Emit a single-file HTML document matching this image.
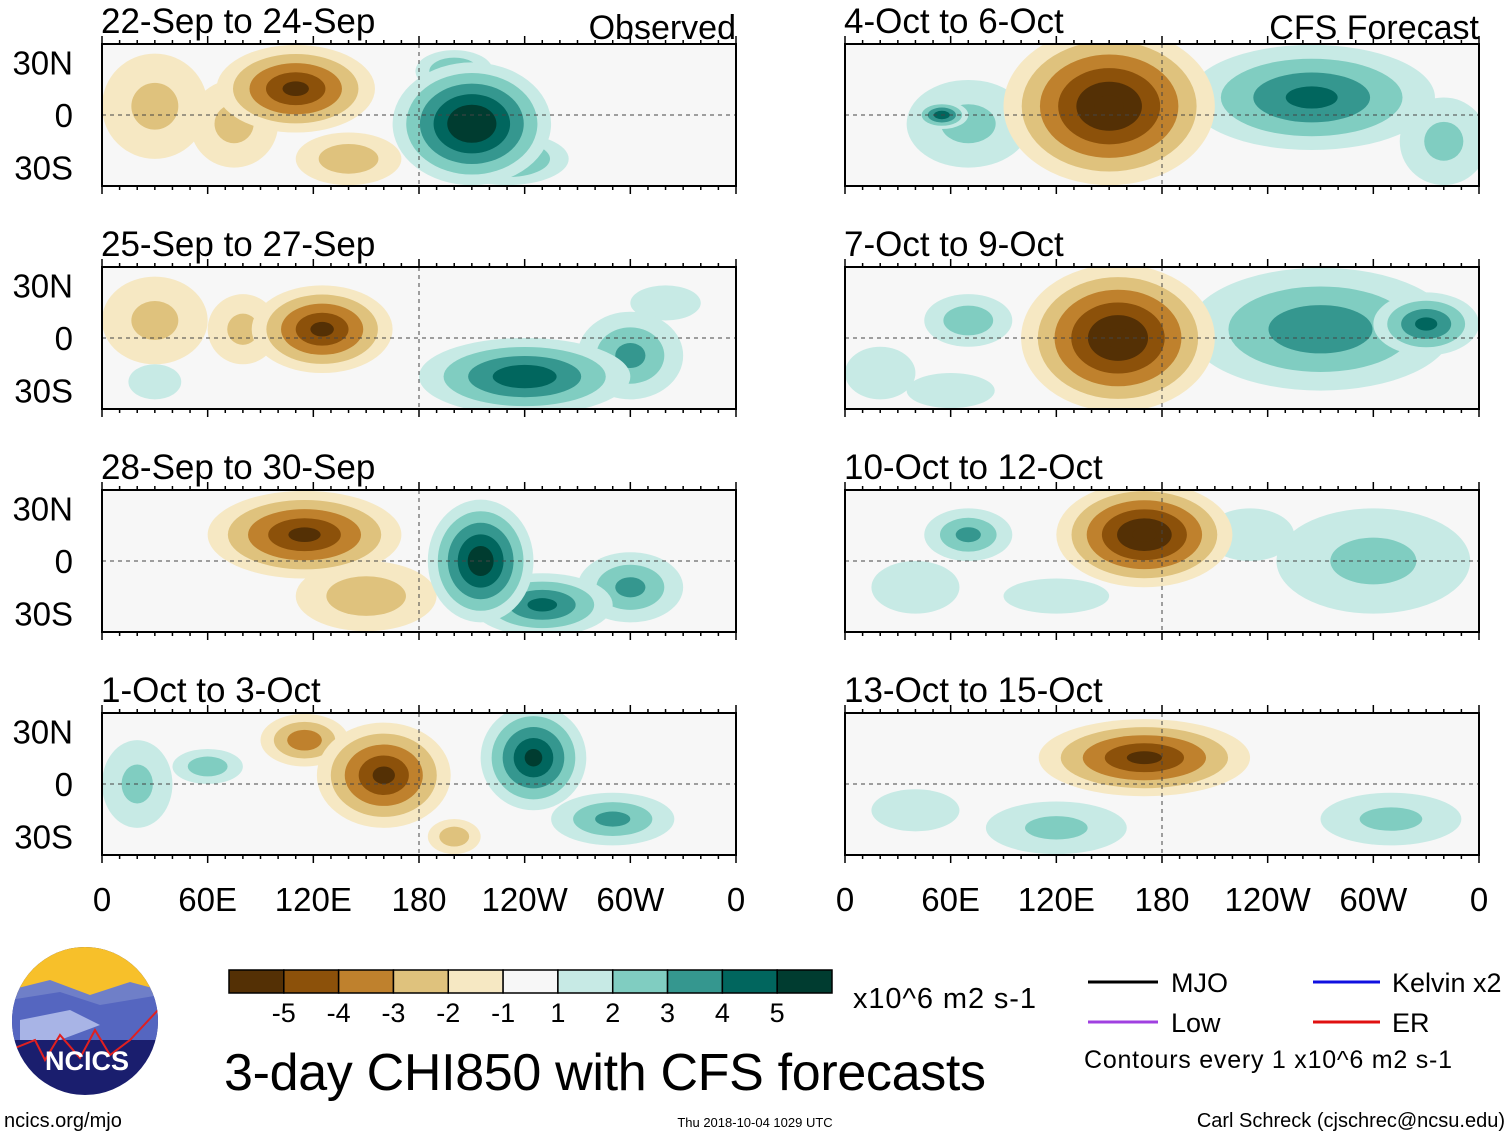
<!DOCTYPE html>
<html><head><meta charset="utf-8">
<style>
body{margin:0;background:#fff;width:1510px;height:1137px;overflow:hidden;font-family:"Liberation Sans",sans-serif;}
svg{display:block}
text{font-family:"Liberation Sans",sans-serif;}
</style></head>
<body>
<svg id="fig" width="1510" height="1137">
<g id="panels"></g>
<g id="cbar"></g>
<g>
<clipPath id="lc"><ellipse cx="85" cy="1021" rx="73" ry="74"/></clipPath>
<g clip-path="url(#lc)">
<rect x="10" y="945" width="150" height="160" fill="#1a1e6e"/>
<rect x="10" y="945" width="150" height="50" fill="#f7c02a"/>
<polygon points="10,990 50,980 90,995 130,982 160,990 160,1010 10,1010" fill="#6f7fc8"/>
<polygon points="10,1000 60,992 100,1005 160,995 160,1040 10,1040" fill="#5566c0"/>
<polygon points="20,1020 70,1010 100,1025 60,1040 20,1040" fill="#a8b4e6"/>
<polyline points="10,1050 35,1040 45,1060 60,1035 80,1058 95,1030 110,1055 130,1040 158,1010" fill="none" stroke="#e02020" stroke-width="2"/>
</g>
<text x="87" y="1070" text-anchor="middle" font-size="27" font-weight="bold" fill="#fff">NCICS</text>
</g>
<text x="224" y="1090" font-size="52" textLength="762">3-day CHI850 with CFS forecasts</text>
<text x="853" y="1008" font-size="29" textLength="183">x10^6 m2 s-1</text>
<g>
<line x1="1088" y1="982" x2="1158" y2="982" stroke="#000" stroke-width="3"/>
<text x="1171" y="992" font-size="27">MJO</text>
<line x1="1313" y1="982" x2="1380" y2="982" stroke="#1010e0" stroke-width="3"/>
<text x="1392" y="992" font-size="27">Kelvin x2</text>
<line x1="1088" y1="1022" x2="1158" y2="1022" stroke="#a040e0" stroke-width="3"/>
<text x="1171" y="1032" font-size="27">Low</text>
<line x1="1313" y1="1022" x2="1380" y2="1022" stroke="#e01010" stroke-width="3"/>
<text x="1392" y="1032" font-size="27">ER</text>
<text x="1084" y="1068" font-size="25" textLength="368">Contours every 1 x10^6 m2 s-1</text>
</g>
<text x="4" y="1127" font-size="20">ncics.org/mjo</text>
<text x="755" y="1127" font-size="13" text-anchor="middle">Thu 2018-10-04 1029 UTC</text>
<text x="1505" y="1127" font-size="20" text-anchor="end">Carl Schreck (cjschrec@ncsu.edu)</text>
</svg>
<script>
const NS="http://www.w3.org/2000/svg";
const colors=["#543005","#8c510a","#bf812d","#dfc27d","#f6e8c3","#f7f7f7","#c7eae5","#80cdc1","#35978f","#01665e","#003c30"];
const cbarLabels=["-5","-4","-3","-2","-1","1","2","3","4","5"];
const panelTitles=["22-Sep to 24-Sep","4-Oct to 6-Oct","25-Sep to 27-Sep","7-Oct to 9-Oct","28-Sep to 30-Sep","10-Oct to 12-Oct","1-Oct to 3-Oct","13-Oct to 15-Oct"];
const lonTicks=[0,60,120,180,240,300,360];
const lonLabels=["0","60E","120E","180","120W","60W","0"];
const latTicks=[30,0,-30];
const latLabels=["30N","0","30S"];
// anomaly centers per panel: [lon, lat, amplitude, lonRadius, latRadius]
const blobs0=[[30,5,-1.5,30,30],[75,-5,-1.5,25,25],[140,-25,-2,30,15],[110,15,-4.5,45,25],[200,25,2.5,22,12],[230,-25,3,35,15],[210,-5,5.5,45,35]];
const blobs1=[[70,-5,1.5,35,25],[55,0,4,15,8],[340,-15,1.5,25,25],[265,10,3.5,70,30],[150,5,-5.5,60,45]];
const blobs2=[[30,10,-1.5,30,25],[80,5,-1.5,20,20],[320,20,1,20,10],[30,-25,1,15,10],[300,-10,2.5,30,25],[240,-22,4,60,22],[125,5,-4.5,40,25]];
const blobs3=[[70,10,2,25,15],[20,-20,1,20,15],[60,-30,1,25,10],[270,5,3,75,35],[330,8,3.5,30,18],[155,0,-5.5,55,42]];
const blobs4=[[150,-20,-2,40,20],[115,15,-4.5,55,25],[300,-15,2.5,30,20],[250,-25,3.5,40,18],[215,0,5,30,35]];
const blobs5=[[70,15,2.5,25,15],[300,0,1.5,55,30],[230,15,1,25,15],[40,-15,1,25,15],[120,-20,1,30,10],[170,15,-5.5,50,30]];
const blobs6=[[60,10,2,20,10],[20,0,1.5,20,25],[290,-20,2.5,35,15],[200,-30,-2,15,10],[115,25,-3,25,15],[160,5,-4.5,38,30],[245,15,4.5,30,30]];
const blobs7=[[120,-25,1.5,40,15],[310,-20,1.5,40,15],[40,-15,1,25,12],[170,15,-4.5,60,22]];
const allBlobs=[blobs0,blobs1,blobs2,blobs3,blobs4,blobs5,blobs6,blobs7];

const colX=[102,845], rowY=[44,267,490,713], PW=634, PH=142;
function xOf(px,lon){return px+lon/360*PW;}
function yOf(py,lat){return py+PH/2-lat*PH/81;}
function colorFor(v){
  if(v<0){return colors[Math.max(0,5-Math.ceil(-v))];}
  return colors[Math.min(10,5+Math.ceil(v))];
}
const P=document.getElementById('panels');
function mk(tag,attrs,parent){const e=document.createElementNS(NS,tag);for(const k in attrs)e.setAttribute(k,attrs[k]);parent.appendChild(e);return e;}
for(let i=0;i<8;i++){
  const px=colX[i%2], py=rowY[Math.floor(i/2)];
  const g=mk('g',{},P);
  
  
  const cp=mk('clipPath',{id:'cp'+i},g); mk('rect',{x:px,y:py,width:PW,height:PH},cp);
  const inner=mk('g',{'clip-path':'url(#cp'+i+')'},g);
  mk('rect',{x:px,y:py,width:PW,height:PH,fill:'#f7f7f7'},inner);
  for(const b of allBlobs[i]){
    const n=Math.ceil(Math.abs(b[2]));
    for(let k=1;k<=n;k++){
      const s=1-(k-1)/(Math.abs(b[2])+0.3);
      const sign=b[2]<0?-1:1;
      const e=mk('ellipse',{cx:xOf(px,b[0]),cy:yOf(py,b[1]),rx:b[3]*s*PW/360,ry:b[4]*s*PH/81,fill:colorFor(sign*k)},inner);
      
      
    }
  }
  mk('line',{x1:px,y1:yOf(py,0),x2:px+PW,y2:yOf(py,0),stroke:'#444','stroke-dasharray':'4,4','stroke-width':1},g);
  mk('line',{x1:xOf(px,180),y1:py,x2:xOf(px,180),y2:py+PH,stroke:'#444','stroke-dasharray':'4,4','stroke-width':1},g);
  mk('rect',{x:px,y:py,width:PW,height:PH,fill:'none',stroke:'#000','stroke-width':2},g);
  for(let l=0;l<=360;l+=10){const x=xOf(px,l);const len=(l%60==0)?8:4;
    mk('line',{x1:x,y1:py,x2:x,y2:py-len,stroke:'#000','stroke-width':1.5},g);
    mk('line',{x1:x,y1:py+PH,x2:x,y2:py+PH+len,stroke:'#000','stroke-width':1.5},g);}
  const t=mk('text',{x:px-1,y:py-11,'font-size':35},g); t.textContent=panelTitles[i];
   
  if(i==0){const o=mk('text',{x:px+PW,y:py-5,'font-size':34,'text-anchor':'end'},g);o.textContent='Observed';}
  if(i==1){const o=mk('text',{x:px+PW,y:py-5,'font-size':34,'text-anchor':'end'},g);o.textContent='CFS Forecast';}
  if(i%2==0){latTicks.forEach((la,j)=>{const tt=mk('text',{x:73,y:yOf(py,la)+12,'font-size':33,'text-anchor':'end'},g);tt.textContent=latLabels[j];
    });}
  if(i>=6){lonTicks.forEach((lo,j)=>{const tt=mk('text',{x:xOf(px,lo),y:911,'font-size':33,'text-anchor':'middle'},g);tt.textContent=lonLabels[j];
    });}
}
const C=document.getElementById('cbar');
const bx=229,bw=603/11;
colors.forEach((c,i)=>{const r=mk('rect',{x:bx+i*bw,y:970,width:bw,height:23,fill:c,stroke:'#000','stroke-width':1.5},C);
  });
cbarLabels.forEach((l,i)=>{const t=mk('text',{x:bx+(i+1)*bw,y:1022,'font-size':27,'text-anchor':'middle'},C);t.textContent=l;
  });
</script>
</body></html>
